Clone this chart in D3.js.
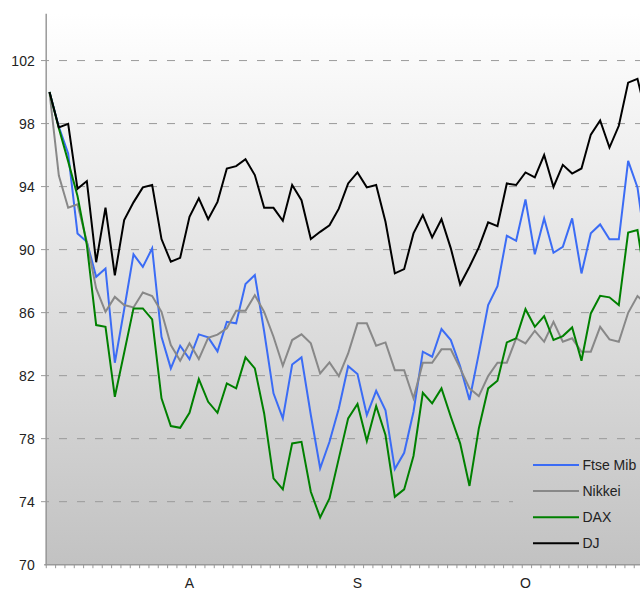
<!DOCTYPE html>
<html>
<head>
<meta charset="utf-8">
<script src="https://cdn.jsdelivr.net/npm/d3@7"></script>
<style>
html,body{margin:0;padding:0;background:#fff;}
svg{display:block;}
text{font-family:"Liberation Sans",Arial,sans-serif;font-size:14px;fill:#222;}
</style>
</head>
<body>
<svg id="chart" width="640" height="590"></svg>
<script>
const seriesNames = ["Ftse Mib", "Nikkei", "DAX", "DJ"];
const seriesColors = ["#3b6cf5", "#888888", "#008000", "#000000"];

const ftseMib = [100,97.79,96.1,91.03,90.5,88.27,88.8,82.82,86.2,89.7,88.9,90.08,84.47,82.46,83.9,83.05,84.62,84.43,83.54,85.42,85.32,87.81,88.38,84.8,80.88,79.29,82.71,83.16,79.5,76.12,77.8,79.92,82.6,82.1,79.5,81.04,79.8,76.07,77.1,79.71,83.52,83.2,84.96,84.26,82.6,80.45,83.4,86.48,87.68,90.88,90.56,93.18,89.7,91.98,89.8,90.18,91.98,88.49,91.03,91.6,90.65,90.65,95.63,93.95,89.6];
const nikkei = [100,94.7,92.66,92.88,90.5,87.54,86.05,87.0,86.48,86.33,87.28,87.05,86.05,83.94,82.95,84.05,83.05,84.4,84.6,85.0,86.12,86.12,87.11,86.05,84.47,82.63,84.26,84.62,84.05,82.14,82.84,81.97,83.41,85.32,85.32,83.9,84.11,82.35,82.35,80.56,82.82,82.82,83.67,83.67,82.46,81.19,80.7,81.97,82.82,82.82,84.37,84.05,84.85,84.15,85.42,84.15,84.37,83.52,83.52,85.1,84.3,84.15,85.99,87.05,86.5];
const dax = [100,97.7,95.6,93.4,90.3,85.21,85.1,80.66,83.45,86.27,86.27,85.57,80.56,78.8,78.69,79.64,81.78,80.34,79.64,81.51,81.19,83.16,82.46,79.6,75.48,74.78,77.7,77.8,74.63,73.0,74.21,76.75,79.29,80.2,77.85,80.07,78.23,74.31,74.78,76.9,80.91,80.24,81.19,79.39,77.7,75.0,78.65,81.19,81.68,84.11,84.37,86.22,85.1,85.78,84.26,84.51,85.06,82.95,85.95,87.07,86.97,86.48,91.09,91.24,87.4];
const dj = [100,97.75,97.98,93.86,94.35,89.2,92.67,88.37,91.87,93.0,93.95,94.1,90.67,89.23,89.48,92.08,93.25,91.93,93.03,95.15,95.3,95.74,94.73,92.65,92.65,91.83,94.1,93.14,90.67,91.13,91.55,92.6,94.2,94.9,93.95,94.1,91.77,88.49,88.76,91.03,92.19,90.77,91.93,90.08,87.79,88.91,90.14,91.73,91.49,94.2,94.1,94.9,94.58,96.0,93.98,95.38,94.83,95.15,97.3,98.2,96.48,97.86,100.6,100.84,98.4];

const monthLabels = ["A", "S", "O"];
const monthIndex = [15, 33, 51];
const yTicks = [70, 74, 78, 82, 86, 90, 94, 98, 102];

const allSeries = [ftseMib, nikkei, dax, dj];

const svg = d3.select("#chart");
const W = 640, H = 590;
const plotLeft = 45.7, plotTop = 13.3, plotBottom = 564.7, plotRight = 640;
const step = 9.333;
const n = dj.length;

const x = d3.scaleLinear().domain([0, n - 1]).range([49.5, 49.5 + step * (n - 1)]);
const y = d3.scaleLinear().domain([70, 105]).range([plotBottom, plotTop]);

const defs = svg.append("defs");
const grad = defs.append("linearGradient")
  .attr("id", "bg").attr("gradientUnits", "userSpaceOnUse")
  .attr("x1", 0).attr("y1", plotTop).attr("x2", 0).attr("y2", plotBottom);
grad.append("stop").attr("offset", "0%").attr("stop-color", "#ffffff");
grad.append("stop").attr("offset", "100%").attr("stop-color", "#c2c2c2");

defs.append("clipPath").attr("id", "clip").append("rect")
  .attr("x", plotLeft).attr("y", 0).attr("width", plotRight - plotLeft).attr("height", plotBottom);

svg.append("rect").attr("x", plotLeft).attr("y", plotTop)
  .attr("width", plotRight - plotLeft).attr("height", plotBottom - plotTop)
  .attr("fill", "url(#bg)");

// gridlines
svg.append("g").selectAll("line").data(yTicks.filter(v => v > 70)).join("line")
  .attr("x1", 41).attr("x2", plotRight)
  .attr("y1", d => y(d)).attr("y2", d => y(d))
  .attr("stroke", "#9a9a9a").attr("stroke-width", 1)
  .attr("stroke-dasharray", "8,10");

// legend background (hides gridlines)
svg.append("rect").attr("x", 513).attr("y", 448).attr("width", 140).attr("height", 110)
  .attr("fill", "url(#bg)");

// lines
const line = d3.line().x((d, i) => x(i)).y(d => y(d));
const lg = svg.append("g").attr("clip-path", "url(#clip)");
allSeries.forEach((s, k) => {
  lg.append("path").datum(s)
    .attr("d", line).attr("fill", "none")
    .attr("stroke", seriesColors[k]).attr("stroke-width", 2);
});

// y axis
const yAxis = d3.axisLeft(y).tickValues(yTicks).tickSize(0).tickPadding(11);
const yg = svg.append("g").attr("transform", `translate(${plotLeft},0)`).call(yAxis);
yg.select(".domain").attr("stroke", "#999").attr("stroke-width", 1.5);
yg.selectAll("text").attr("fill", "#222").style("font-size", "14px")
  .style("font-family", '"Liberation Sans", Arial, sans-serif');

// x axis with minor ticks
const xTicks = d3.range(0, n).map(i => i - 0.4).filter(v => x(v) <= plotRight);
const xAxis = d3.axisBottom(x).tickValues(xTicks).tickSize(3.5).tickSizeOuter(0).tickFormat("");
const xg = svg.append("g").attr("transform", `translate(0,${plotBottom})`).call(xAxis);
xg.select(".domain").attr("stroke", "#999").attr("stroke-width", 1.5)
  .attr("d", `M${plotLeft - 1.5},0H${plotRight}`);
xg.selectAll(".tick line").attr("stroke", "#999");

// month labels
svg.append("g").selectAll("text").data(monthLabels).join("text")
  .attr("x", (d, i) => x(monthIndex[i])).attr("y", 588)
  .attr("text-anchor", "middle").text(d => d);

// legend
const legY = [465, 491, 517.3, 543.3];
const leg = svg.append("g");
seriesNames.forEach((nm, k) => {
  leg.append("line").attr("x1", 533).attr("x2", 579)
    .attr("y1", legY[k]).attr("y2", legY[k])
    .attr("stroke", seriesColors[k]).attr("stroke-width", 2);
  leg.append("text").attr("x", 582.5).attr("y", legY[k]).attr("dy", "0.36em").text(nm);
});
</script>
</body>
</html>
